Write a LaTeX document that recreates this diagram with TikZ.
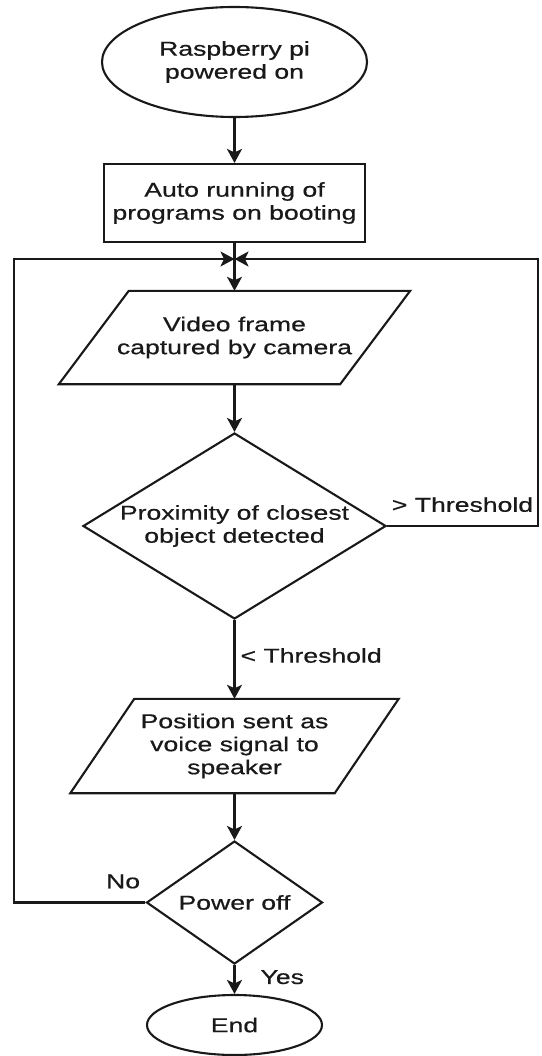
\documentclass[tikz,border=0pt]{standalone}
\usepackage{fontspec}
\setmainfont{Liberation Sans}[FakeStretch=1.33]
\newfontfamily\chartfont{Liberation Sans}[FakeStretch=1.33,FakeBold=0.6]
\usetikzlibrary{shapes.geometric,arrows.meta,calc}
\begin{document}
\begin{tikzpicture}[x=1pt,y=-1pt,
  every node/.style={font=\chartfont\fontsize{20}{23}\selectfont, text=black!90},
  ln/.style={line width=2.1pt, draw=black!90, line join=miter},
  arr/.style={ln, -{Stealth[length=14pt,width=15pt,inset=3.5pt]}},
  term/.style={ellipse, ln, inner sep=0pt, align=center},
  proc/.style={rectangle, ln, inner sep=0pt, align=center},
  io/.style={rectangle, inner sep=0pt, align=center},
  dec/.style={diamond, ln, inner sep=0pt, align=center},
  lbl/.style={inner sep=0pt}
]
\useasboundingbox (0,0) rectangle (541,1056);

% nodes
\node[term, minimum width=265pt, minimum height=110pt] (start) at (234.5,62) {Raspberry pi\\powered on};
\node[proc, minimum width=261pt, minimum height=78pt] (boot) at (234.5,203) {Auto running of\\programs on booting};
\node[io, minimum width=281pt, minimum height=93pt] (cap) at (234.5,337.5) {Video frame\\captured by camera};
\draw[ln] ([xshift=35pt]cap.north west) -- ([xshift=35pt]cap.north east) -- ([xshift=-35pt]cap.south east) -- ([xshift=-35pt]cap.south west) -- cycle;
\node[dec, aspect=1.63, minimum width=303pt, minimum height=186pt] (prox) at (234.5,526) {Proximity of closest\\object detected};
\node[io, minimum width=264pt, minimum height=94pt] (voice) at (234.5,746) {Position sent as\\voice signal to\\speaker};
\draw[ln] ([xshift=32pt]voice.north west) -- ([xshift=32pt]voice.north east) -- ([xshift=-32pt]voice.south east) -- ([xshift=-32pt]voice.south west) -- cycle;
\node[dec, aspect=1.43, minimum width=176pt, minimum height=123pt] (off) at (234.5,902.5) {Power off};
\node[term, minimum width=175pt, minimum height=60pt] (end) at (234.5,1025) {End};

\coordinate (merge) at (234.5,259);
\coordinate (lc) at (14,259);
\coordinate (rc) at (538,259);

% connectors
\draw[arr] (start) -- (boot);
\draw[arr] (boot) -- (cap);
\draw[arr] (cap) -- (prox);
\draw[arr] (prox) -- node[lbl, pos=0.45, anchor=west, xshift=5pt] {< Threshold} (voice);
\draw[arr] (voice) -- (off);
\draw[arr] (off) -- node[lbl, pos=0.42, anchor=west, xshift=25pt] {Yes} (end);
\draw[arr] (off.west) -- node[lbl, pos=0.17, above=13pt] {No} (off.west -| lc) -- (lc) -- (merge);
\draw[arr] (prox.east) -- node[lbl, pos=0.5, above=13pt] {> Threshold} (prox.east -| rc) -- (rc) -- (merge);
\end{tikzpicture}
\end{document}
